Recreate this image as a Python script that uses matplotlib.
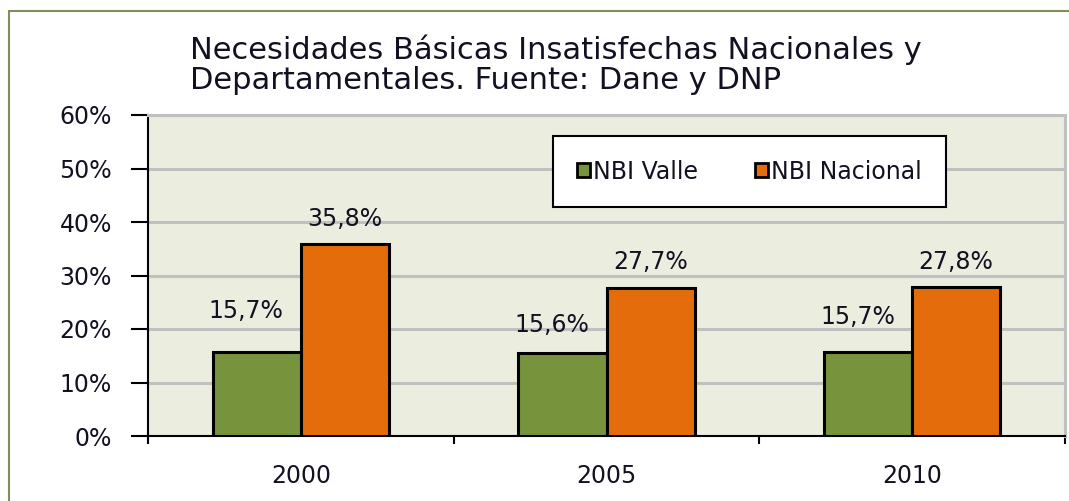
import numpy as np
import matplotlib.pyplot as plt
from matplotlib.patches import Rectangle

plt.rcParams['font.family'] = ['DejaVu Sans']

years = ['2000', '2005', '2010']
nbi_valle = [15.7, 15.6, 15.7]
nbi_nacional = [35.8, 27.7, 27.8]
valle_labels = ['15,7%', '15,6%', '15,7%']
nacional_labels = ['35,8%', '27,7%', '27,8%']
y_ticks = [0, 10, 20, 30, 40, 50, 60]

# how far above the bar each green label sits (they are not evenly placed)
valle_label_dy = [7.6, 5.1, 6.6]

green = '#77933C'
orange = '#E46C0A'
txt = '#111122'

fig = plt.figure(figsize=(10.69, 5.01), dpi=100)

# outer chart frame, runs off the right and bottom edge
fig.patches.append(Rectangle((9 / 1069, -0.1), 1.2, 1 - 11 / 501 + 0.1,
                             transform=fig.transFigure, fill=False,
                             edgecolor='#7F8F5A', lw=1.5))

ax = fig.add_axes([148 / 1069, 1 - 436 / 501, 917 / 1069, 321 / 501])
ax.set_facecolor('#EBEDDF')

x = np.arange(len(years))
w = 0.288
ax.bar(x - w / 2, nbi_valle, w, color=green, edgecolor='black', lw=2.2,
       label='NBI Valle', zorder=3)
ax.bar(x + w / 2, nbi_nacional, w, color=orange, edgecolor='black', lw=2.2,
       label='NBI Nacional', zorder=3)

for i in range(len(years)):
    ax.text(x[i] - w / 2 - 0.035, nbi_valle[i] + valle_label_dy[i], valle_labels[i],
            ha='center', va='center', fontsize=17, color=txt)
    ax.text(x[i] + w / 2, nbi_nacional[i] + 4.8, nacional_labels[i],
            ha='center', va='center', fontsize=17, color=txt)

ax.set_xlim(-0.5, 2.5)
ax.set_ylim(0, 60)
ax.set_yticks(y_ticks)
ax.set_yticklabels([f'{v}%' for v in y_ticks], fontsize=17, color=txt)
ax.yaxis.grid(True, color='#C0C0C0', lw=2.2, zorder=0)

ax.set_xticks(x)
ax.set_xticklabels(years, fontsize=17, color=txt)
ax.set_xticks([-0.5, 0.5, 1.5, 2.5], minor=True)
ax.tick_params(axis='x', which='major', length=0, pad=20)
ax.tick_params(axis='x', which='minor', length=6, width=1.5, direction='out')
ax.tick_params(axis='y', length=12, width=1.5, direction='out', pad=14)

ax.spines['left'].set_linewidth(1.5)
ax.spines['bottom'].set_linewidth(1.5)
ax.spines['top'].set_color('#C0C0C0')
ax.spines['top'].set_linewidth(2.2)
ax.spines['right'].set_color('#C0C0C0')
ax.spines['right'].set_linewidth(2.2)

fig.text(190 / 1069, 1 - 59 / 501, 'Necesidades Básicas Insatisfechas Nacionales y',
         ha='left', va='baseline', fontsize=22, color=txt)
fig.text(190 / 1069, 1 - 89 / 501, 'Departamentales. Fuente: Dane y DNP',
         ha='left', va='baseline', fontsize=22, color=txt)

leg = ax.legend(loc='upper left', bbox_to_anchor=((553 - 148) / 917, 1 - (136 - 115) / 321),
                borderaxespad=0, ncol=2, fontsize=17, frameon=True, fancybox=False,
                edgecolor='black', handlelength=0.55, handleheight=0.55,
                handletextpad=0.15, columnspacing=2.4, borderpad=1.0,
                labelcolor=txt)
leg.get_frame().set_linewidth(1.5)
leg.get_frame().set_facecolor('white')
leg.get_frame().set_alpha(1)
for h in leg.legend_handles:
    h.set_linewidth(2)

fig.savefig('out.png', dpi=100)
